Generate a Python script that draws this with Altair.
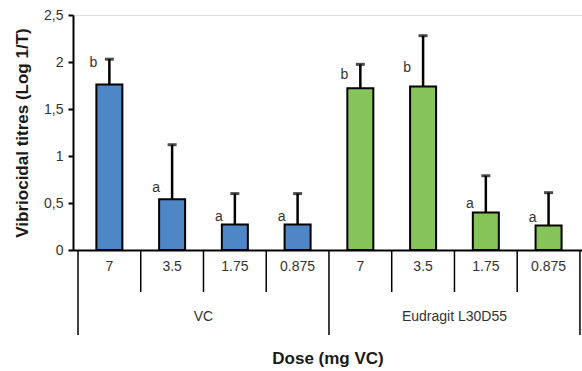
import altair as alt
import pandas as pd

doses = ["7", "3.5", "1.75", "0.875", "7", "3.5", "1.75", "0.875"]
groups = ["VC", "VC", "VC", "VC", "Eudragit L30D55", "Eudragit L30D55", "Eudragit L30D55", "Eudragit L30D55"]
means = [1.76, 0.54, 0.27, 0.27, 1.72, 1.74, 0.40, 0.26]
err_top = [2.03, 1.12, 0.60, 0.60, 1.975, 2.28, 0.79, 0.61]
letters = ["b", "a", "a", "a", "b", "b", "a", "a"]
letter_y = [1.99, 0.66, 0.35, 0.35, 1.86, 1.94, 0.49, 0.34]
group_names = ["VC", "Eudragit L30D55"]
group_colors = ["#4F86C6", "#86C45A"]

df = pd.DataFrame({
    "pos": [i + 0.5 for i in range(len(doses))],
    "dose": doses,
    "group": groups,
    "mean": means,
    "err": err_top,
    "letter": letters,
    "ly": letter_y,
})

short_div = pd.DataFrame({"b": [1, 2, 3, 5, 6, 7]})
long_div = pd.DataFrame({"b": [0, 4, 8]})
grp_df = pd.DataFrame({"g": group_names, "c": [2, 6]})

W, H = 509, 235
xscale = alt.Scale(domain=[0, W / 64], nice=False, zero=False)
yscale = alt.Scale(domain=[0, 2.5], nice=False)

base = alt.Chart(df)

bars = base.mark_bar(size=26, stroke="black", strokeWidth=2).encode(
    x=alt.X("pos:Q", scale=xscale,
            axis=alt.Axis(labels=False, ticks=False, grid=False, domain=True,
                          domainColor="black", domainWidth=2,
                          title="Dose (mg VC)", titleFontSize=17, titleFontWeight="bold",
                          titleFont="Liberation Sans", titleColor="#1a1a1a",
                          titlePadding=100)),
    y=alt.Y("mean:Q", scale=yscale,
            axis=alt.Axis(values=[0, 0.5, 1, 1.5, 2, 2.5],
                          labelExpr="replace(toString(datum.value), '.', ',')",
                          grid=False, domainColor="black", domainWidth=2,
                          tickColor="black", tickWidth=2, tickSize=5,
                          labelFont="Liberation Sans", labelFontSize=14, labelColor="#333333",
                          labelPadding=5,
                          title="Vibriocidal titres (Log 1/T)", titleFontSize=17,
                          titleFontWeight="bold", titleFont="Liberation Sans",
                          titleColor="#1a1a1a", titlePadding=12)),
    color=alt.Color("group:N", scale=alt.Scale(domain=group_names, range=group_colors), legend=None),
)

errs = base.mark_rule(color="black", strokeWidth=2.5).encode(
    x="pos:Q", y="mean:Q", y2="err:Q")
caps = base.mark_tick(orient="horizontal", size=9, thickness=3, color="black").encode(
    x="pos:Q", y="err:Q")

lett = base.mark_text(dx=-16, font="Liberation Sans", fontSize=14, color="#333333").encode(
    x="pos:Q", y="ly:Q", text="letter:N")

dose_txt = base.mark_text(font="Liberation Sans", fontSize=14, color="#333333", baseline="middle").encode(
    x="pos:Q", y=alt.value(252), text="dose:N")

sdiv = alt.Chart(short_div).mark_rule(color="black", strokeWidth=1.5).encode(
    x="b:Q", y=alt.value(235), y2=alt.value(277))
ldiv = alt.Chart(long_div).mark_rule(color="black", strokeWidth=1.5).encode(
    x="b:Q", y=alt.value(235), y2=alt.value(320))

grp_txt = alt.Chart(grp_df).mark_text(font="Liberation Sans", fontSize=14, color="#333333", baseline="middle").encode(
    x="c:Q", y=alt.value(302), text="g:N")

chart = alt.layer(bars, errs, caps, lett, dose_txt, sdiv, ldiv, grp_txt).properties(
    width=W, height=H,
    autosize=alt.AutoSizeParams(type="none"),
    padding={"left": 73, "top": 15, "right": 0, "bottom": 121},
).configure_view(stroke=None).configure(background="white")

chart.save("out.html", embed_options={"renderer": "svg", "actions": False})
